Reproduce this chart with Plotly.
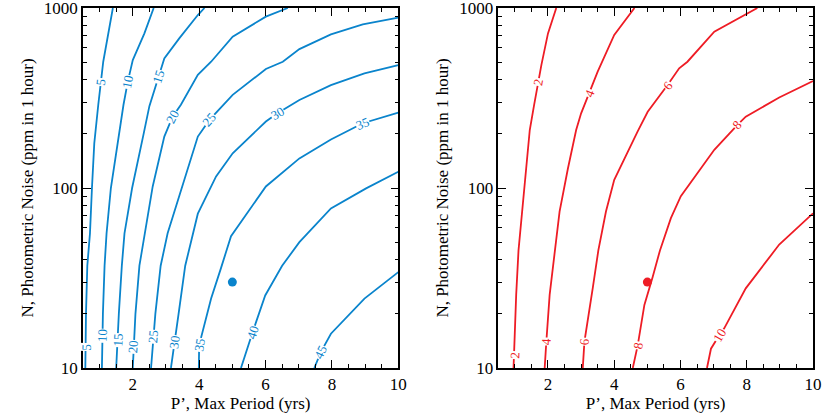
import math
import plotly.graph_objects as go

# ---------------- Left panel: contour lines (blue) ----------------
c5_x = [1.40, 1.24, 1.11, 0.96, 0.84, 0.77, 0.71, 0.63, 0.59, 0.57]
c5_y = [1000, 678, 503, 290, 177, 100, 56, 37, 20, 10]
c10_x = [2.63, 2.35, 2.00, 1.85, 1.72, 1.55, 1.34, 1.21, 1.15, 1.10, 1.07]
c10_y = [1000, 723, 514, 390, 290, 177, 100, 56, 37, 20, 10]
c15_x = [4.16, 3.96, 3.40, 2.95, 2.78, 2.50, 2.33, 1.98, 1.75, 1.67, 1.58, 1.50]
c15_y = [1000, 914, 678, 525, 416, 285, 201, 100, 56, 37, 20, 10]
c20_x = [6.67, 6.01, 5.01, 4.36, 3.96, 3.45, 3.20, 2.95, 2.60, 2.35, 2.20, 2.08, 2.00]
c20_y = [1000, 895, 693, 503, 425, 290, 249, 193, 102, 56, 37, 20, 10]
c25_x = [10.0, 8.93, 7.97, 7.02, 6.52, 6.01, 5.01, 4.70, 4.31, 3.96, 3.50, 3.05, 2.84, 2.68, 2.55]
c25_y = [883, 811, 714, 591, 503, 458, 329, 285, 239, 193, 102, 56, 37, 20, 10]
c30_x = [10.0, 8.98, 7.97, 7.02, 6.36, 6.01, 5.01, 4.51, 3.96, 3.58, 3.38, 3.15]
c30_y = [482, 433, 373, 308, 260, 234, 156, 116, 72, 37, 20, 10]
c35_x = [10.0, 8.93, 7.97, 7.02, 6.01, 4.96, 4.66, 4.36, 4.00, 3.99]
c35_y = [262, 229, 186, 146, 102, 54, 36, 24.3, 13.4, 10]
c40_x = [10.0, 9.03, 7.97, 7.02, 6.50, 5.99, 5.61, 5.26]
c40_y = [123, 99.5, 77, 50, 37, 25.3, 15.8, 10]
c45_x = [10.0, 8.98, 7.97, 7.67, 7.47]
c45_y = [34.1, 24.3, 15.5, 12.3, 10]

left_lines = [(c5_x, c5_y), (c10_x, c10_y), (c15_x, c15_y), (c20_x, c20_y),
              (c25_x, c25_y), (c30_x, c30_y), (c35_x, c35_y), (c40_x, c40_y),
              (c45_x, c45_y)]

# contour labels, left panel
left_lab_text = ["5", "10", "15", "20", "25", "30", "35",
                 "5", "10", "15", "20", "25", "30", "35", "40", "45"]
left_lab_x = [1.04, 1.85, 2.78, 3.20, 4.31, 6.36, 8.93,
              0.61, 1.07, 1.54, 2.02, 2.62, 3.25, 4.00, 5.61, 7.67]
left_lab_y = [390, 390, 416, 249, 239, 260, 229,
              13.1, 15.2, 14.3, 13.1, 14.9, 13.9, 13.4, 15.8, 12.3]
left_lab_ang = [-83, -79, -72, -63, -49, -30, -22,
                -88, -88, -87, -86, -85, -82, -80, -72, -64]

# ---------------- Right panel: contour lines (red) ----------------
r2_x = [2.25, 2.00, 1.80, 1.70, 1.58, 1.45, 1.34, 1.21, 1.11, 1.04, 0.99, 0.96]
r2_y = [1000, 723, 482, 386, 289, 210, 128, 74, 45, 25.5, 13.4, 10]
r4_x = [4.61, 4.00, 3.50, 3.25, 3.00, 2.85, 2.60, 2.35, 2.20, 2.05, 1.95, 1.90]
r4_y = [1000, 708, 443, 336, 260, 210, 128, 74, 45, 25.5, 14, 10]
r6_x = [8.32, 7.97, 7.02, 6.21, 5.96, 5.61, 5.01, 4.70, 4.00, 3.75, 3.52, 3.35, 3.10, 3.05]
r6_y = [1000, 922, 739, 503, 462, 373, 265, 205, 111, 74, 45, 27.7, 14, 10]
r8_x = [10.0, 8.98, 7.97, 7.72, 7.02, 6.01, 5.71, 5.38, 5.16, 4.91, 4.71, 4.56]
r8_y = [393, 318, 249, 224, 163, 90, 68, 45, 32, 22.4, 13.4, 10]
r10_x = [10.0, 8.98, 7.97, 7.32, 7.17, 6.92, 6.80]
r10_y = [72.3, 48.5, 27.7, 16.6, 15.2, 12.8, 10]

right_lines = [(r2_x, r2_y), (r4_x, r4_y), (r6_x, r6_y), (r8_x, r8_y), (r10_x, r10_y)]

right_lab_text = ["2", "4", "6", "8", "2", "4", "6", "8", "10"]
right_lab_x = [1.70, 3.25, 5.61, 7.72, 0.99, 1.95, 3.10, 4.71, 7.17]
right_lab_y = [386, 336, 373, 224, 11.8, 14, 14, 13.4, 15.2]
right_lab_ang = [-80, -68, -51, -47, -88, -88, -86, -80, -60]

# marked point
point_x = [5.0]
point_y = [30]

x_title = "P’, Max Period (yrs)"
y_title = "N, Photometric Noise (ppm in 1 hour)"

BLUE = "#0a84cc"
RED = "#ee1c25"
FONT = "Liberation Serif"

fig = go.Figure()
for xs, ys in left_lines:
    fig.add_trace(go.Scatter(x=xs, y=ys, mode="lines", xaxis="x", yaxis="y",
                             line=dict(color=BLUE, width=1.8), hoverinfo="skip"))
for xs, ys in right_lines:
    fig.add_trace(go.Scatter(x=xs, y=ys, mode="lines", xaxis="x2", yaxis="y2",
                             line=dict(color=RED, width=1.8), hoverinfo="skip"))
fig.add_trace(go.Scatter(x=point_x, y=point_y, mode="markers", xaxis="x", yaxis="y",
                         marker=dict(color=BLUE, size=9)))
fig.add_trace(go.Scatter(x=point_x, y=point_y, mode="markers", xaxis="x2", yaxis="y2",
                         marker=dict(color=RED, size=9)))

annotations = []
for t, x, y, a in zip(left_lab_text, left_lab_x, left_lab_y, left_lab_ang):
    annotations.append(dict(text=t, x=x, y=math.log10(y), xref="x", yref="y",
                            showarrow=False, textangle=a, bgcolor="white",
                            borderpad=0, font=dict(family=FONT, size=13, color=BLUE)))
for t, x, y, a in zip(right_lab_text, right_lab_x, right_lab_y, right_lab_ang):
    annotations.append(dict(text=t, x=x, y=math.log10(y), xref="x2", yref="y2",
                            showarrow=False, textangle=a, bgcolor="white",
                            borderpad=0, font=dict(family=FONT, size=13, color=RED)))

minor_y = [m * 10 ** k for k in (1, 2) for m in range(2, 10)]

def xaxis_style(domain, anchor):
    return dict(domain=domain, anchor=anchor, range=[0.5, 10], tick0=0, dtick=2,
                automargin=False, ticklabeloverflow="allow",
                ticks="inside", ticklen=8, tickwidth=1.2, tickcolor="black",
                showline=True, linecolor="black", linewidth=1.5, mirror="ticks",
                showgrid=False, zeroline=False,
                minor=dict(dtick=0.5, tick0=0, ticks="inside", ticklen=4,
                           tickwidth=1.2, tickcolor="black", showgrid=False),
                tickfont=dict(family=FONT, size=17, color="black"),
                title=dict(text=x_title, font=dict(family=FONT, size=17, color="black"),
                           standoff=2))

def yaxis_style(anchor):
    return dict(domain=[0, 1], anchor=anchor, type="log", range=[1, 3],
                automargin=False, ticklabeloverflow="allow",
                tickvals=[10, 100, 1000], ticktext=["10", "100", "1000"],
                ticks="inside", ticklen=8, tickwidth=1.2, tickcolor="black",
                showline=True, linecolor="black", linewidth=1.5, mirror="ticks",
                showgrid=False, zeroline=False,
                minor=dict(tickvals=minor_y, ticks="inside", ticklen=4,
                           tickwidth=1.2, tickcolor="black", showgrid=False),
                tickfont=dict(family=FONT, size=17, color="black"),
                title=dict(text=y_title, font=dict(family=FONT, size=17, color="black"),
                           standoff=6))

fig.update_layout(
    width=830, height=415,
    margin=dict(l=83, r=17, t=8, b=47),
    paper_bgcolor="white", plot_bgcolor="white",
    showlegend=False,
    xaxis=xaxis_style([0, 0.4319], "y"),
    yaxis=yaxis_style("x"),
    xaxis2=xaxis_style([0.5689, 1], "y2"),
    yaxis2=yaxis_style("x2"),
    annotations=annotations,
)

fig.write_html("out.html", config={"displayModeBar": False},
               post_script="document.body.style.margin='0px';")
